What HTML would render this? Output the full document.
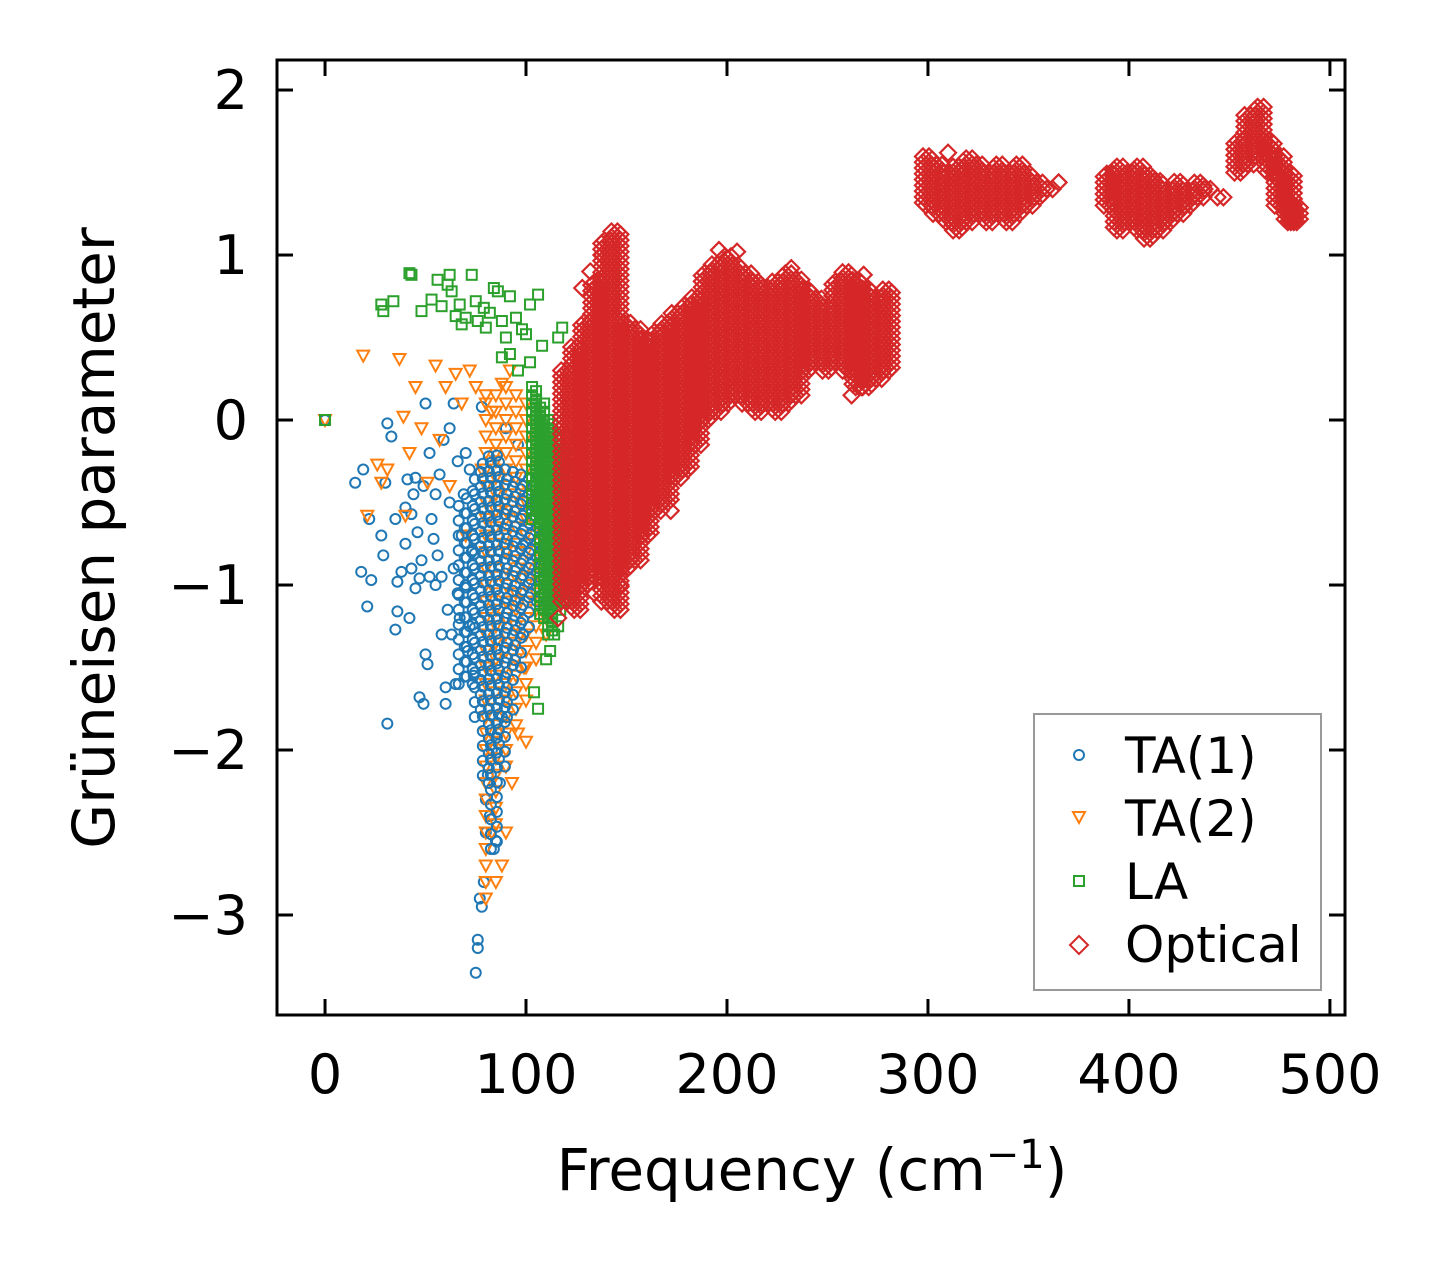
<!DOCTYPE html>
<html><head><meta charset="utf-8">
<style>
html,body{margin:0;padding:0;background:#fff;}
svg{display:block;font-family:"DejaVu Sans","Liberation Sans",sans-serif;}
</style></head>
<body>
<svg id="chart" width="1447" height="1264" viewBox="0 0 1447 1264">
<g id="marks"></g>
<g id="axes"></g>
<g id="legend">
  <rect x="1034" y="714" width="287" height="276" fill="#fff" stroke="#999" stroke-width="2"/>
  <g><circle cx="1079" cy="755" r="5" fill="none" stroke="#1f77b4" stroke-width="2"/><text x="1125" y="773" font-size="50">TA(1)</text></g>
  <g><path d="M1073,812 L1085,812 L1079,823 Z" fill="none" stroke="#ff7f0e" stroke-width="2"/><text x="1125" y="836" font-size="50">TA(2)</text></g>
  <g><rect x="1074" y="876" width="10" height="10" fill="none" stroke="#2ca02c" stroke-width="2"/><text x="1125" y="899" font-size="50">LA</text></g>
  <g><path d="M1079,936 L1088,945 L1079,954 L1070,945 Z" fill="none" stroke="#d62728" stroke-width="2"/><text x="1125" y="962" font-size="50">Optical</text></g>
</g>
</svg>
<script>
// ---- data ----
const xTicks=[0,100,200,300,400,500];
const yTicks=[-3,-2,-1,0,1,2];
const yTickLabels=["\u22123","\u22122","\u22121","0","1","2"];
const ta1=[[0,0],[15,-0.38],[19,-0.3],[18,-0.92],[21,-1.13],[23,-0.97],[22,-0.6],[28,-0.7],[29,-0.82],[30,-0.38],[31,-0.02],[33,-0.1],[35,-1.27],[36,-1.16],[36,-0.98],[38,-0.92],[40,-0.53],[41,-0.36],[42,-1.2],[43,-0.57],[44,-0.45],[45,-1.02],[46,-0.68],[47,-0.96],[48,-0.85],[49,-0.4],[50,0.1],[50,-1.42],[51,-1.48],[52,-0.2],[53,-0.6],[54,-0.72],[55,-1.0],[56,-0.82],[57,-0.33],[58,-0.95],[59,-0.12],[60,-1.62],[60,-1.72],[61,-1.15],[62,-0.5],[63,-1.3],[64,0.1],[64,-0.9],[65,-1.6],[66,-0.25],[67,-1.2],[68,-0.7],[69,-0.45],[70,-1.0],[71,-1.4],[72,-0.3],[73,-0.8],[74,-1.55],[75,-3.35],[76,-3.2],[76,-3.15],[77,-2.9],[78,-2.95],[79,-2.8],[80,-2.5],[80,-2.3],[81,-2.15],[82,-2.4],[83,-2.0],[84,-2.6],[85,-2.55],[86,-1.9],[87,-2.2],[88,-1.8],[31,-1.84],[47,-1.68],[49,-1.72],[55,-0.45],[62,-0.05],[70,-0.2],[78,0.08],[45,-0.35],[58,-1.3],[66,-1.05],[72,-1.25],[35,-0.6],[40,-0.75],[52,-0.95],[43,-0.9],[100,-0.75],[104,-0.6],[96,-0.15],[90,-0.05]];
const ta1CoreF=[68,72,76,80,84,88,92,96,100,104,108];
const ta1CoreLo=[-1.6,-1.6,-1.8,-2.2,-2.6,-2.1,-1.8,-1.5,-1.3,-1.1,-0.9];
const ta1CoreHi=[-0.5,-0.4,-0.3,-0.2,-0.2,-0.25,-0.3,-0.3,-0.35,-0.4,-0.5];
const ta2=[[0,0],[19,0.39],[21,-0.58],[26,-0.27],[28,-0.38],[31,-0.3],[37,0.37],[39,0.02],[40,-0.58],[42,-0.2],[45,0.2],[48,-0.05],[51,-0.38],[55,0.33],[57,-0.12],[60,0.2],[62,-0.4],[65,0.28],[68,0.1],[70,-0.7],[72,0.3],[75,0.2],[78,-0.3],[80,0.15],[83,0.05],[85,-0.2],[88,0.22],[90,-0.55],[92,0.3],[95,-1.1],[97,-1.3],[99,-1.5],[100,-1.95],[96,-1.9],[93,-2.2],[90,-2.5],[88,-2.7],[85,-2.8],[83,-2.5],[110,-0.9],[108,-0.3],[105,-0.1]];
const ta2CoreF=[80,85,90,95,100,105,110,115];
const ta2CoreLo=[-2.9,-2.5,-2.1,-1.9,-1.7,-1.5,-1.3,-1.1];
const ta2CoreHi=[0.1,0.15,0.2,0.15,0.1,0.0,-0.1,-0.3];
const la=[[0,0],[28,0.7],[29,0.66],[34,0.72],[42,0.89],[43,0.88],[48,0.66],[53,0.73],[56,0.85],[58,0.69],[61,0.82],[62,0.88],[63,0.78],[65,0.63],[67,0.7],[68,0.58],[70,0.62],[73,0.88],[75,0.72],[76,0.6],[79,0.68],[80,0.56],[82,0.65],[84,0.8],[86,0.78],[88,0.6],[90,0.5],[92,0.75],[95,0.62],[98,0.55],[100,0.52],[102,0.7],[106,0.76],[108,0.45],[88,0.38],[92,0.4],[96,0.3],[102,0.35],[110,-1.45],[112,-1.4],[106,-1.75],[104,-1.65],[114,-1.3],[116,-1.25],[118,-1.05],[116,0.5],[118,0.56],[120,-0.1]];
const laCoreF=[104,108,112,116,120];
const laCoreLo=[-0.6,-1.2,-1.3,-1.15,-1.1];
const laCoreHi=[0.2,0.1,0.0,-0.1,-0.2];
const opF=[120,125,130,135,140,145,150,155,160,165,170,175,180,185,190,195,200,205,210,215,220,225,230,235,240,245,250,255,260,265,270,275,280,300,305,310,315,320,325,330,335,340,345,350,355,360,390,395,400,405,410,415,420,425,430,435,440,445,455,460,465,470,475,480,483];
const opLo=[-1.1,-1.15,-1.0,-0.95,-1.1,-1.15,-0.9,-0.85,-0.7,-0.55,-0.5,-0.35,-0.3,-0.15,0,0.05,0.1,0.15,0.1,0.05,0.1,0.05,0.1,0.15,0.3,0.35,0.3,0.35,0.3,0.2,0.2,0.25,0.3,1.3,1.25,1.2,1.15,1.2,1.25,1.2,1.25,1.2,1.25,1.3,1.35,1.4,1.3,1.15,1.2,1.15,1.1,1.15,1.2,1.25,1.3,1.35,1.4,1.35,1.5,1.55,1.6,1.5,1.3,1.2,1.2];
const opHi=[0.3,0.45,0.6,0.85,1.1,1.15,0.6,0.55,0.5,0.55,0.6,0.65,0.7,0.75,0.9,0.95,1.0,0.95,0.9,0.85,0.8,0.85,0.9,0.85,0.8,0.75,0.7,0.85,0.9,0.85,0.8,0.75,0.8,1.6,1.55,1.5,1.55,1.6,1.55,1.5,1.55,1.5,1.55,1.5,1.45,1.4,1.5,1.55,1.5,1.55,1.5,1.45,1.4,1.45,1.4,1.45,1.4,1.35,1.7,1.85,1.9,1.7,1.6,1.5,1.3];
const opExtra=[[128,0.8],[132,0.9],[138,1.0],[143,-1.1],[147,-1.0],[134,-1.05],[196,1.03],[205,1.02],[232,0.92],[268,0.88],[365,1.44],[310,1.62],[262,0.15],[172,-0.55],[116,-1.2]];

// ---- scales ----
const X0=277,X1=1345,Y0=60,Y1=1015;
const xMin=-23.9,xMax=507.5,yMin=-3.606,yMax=2.182;
const px=f=>X0+(f-xMin)/(xMax-xMin)*(X1-X0);
const py=g=>Y1-(g-yMin)/(yMax-yMin)*(Y1-Y0);
const NS="http://www.w3.org/2000/svg";
const marks=document.getElementById('marks');
const axes=document.getElementById('axes');
function mk(tag,attrs,parent){const e=document.createElementNS(NS,tag);for(const k in attrs)e.setAttribute(k,attrs[k]);parent.appendChild(e);return e;}

function drawMarker(type,f,g,name,dx){
  const x=px(f)+(dx||0),y=py(g);let e;
  if(type==='c') e=mk('circle',{cx:x,cy:y,r:5,fill:'none',stroke:'#1f77b4','stroke-width':2},marks);
  else if(type==='t') e=mk('path',{d:`M${x-6},${y-5}L${x+6},${y-5}L${x},${y+6}Z`,fill:'none',stroke:'#ff7f0e','stroke-width':2},marks);
  else if(type==='s') e=mk('rect',{x:x-5,y:y-5,width:10,height:10,fill:'none',stroke:'#2ca02c','stroke-width':2},marks);
  else e=mk('path',{d:`M${x},${y-8}L${x+8},${y}L${x},${y+8}L${x-8},${y}Z`,fill:'none',stroke:'#d62728','stroke-width':2.2},marks);
  
  
}
function drawBand(type,F,Lo,Hi,step,name,offs){
  F.forEach((f,i)=>{(offs||[0]).forEach((dx,j)=>{const off=((i+j)%2)*step/2;for(let g=Lo[i]+off;g<=Hi[i]+1e-9;g+=step)drawMarker(type,f,g,name,dx);});});
}
ta1.forEach(p=>drawMarker('c',p[0],p[1],'ta1-point'));
ta2.forEach(p=>drawMarker('t',p[0],p[1],'ta2-point'));
drawBand('t',ta2CoreF,ta2CoreLo,ta2CoreHi,0.1,'ta2-point',[0]);
drawBand('c',ta1CoreF,ta1CoreLo,ta1CoreHi,0.09,'ta1-point',[-3,3]);
la.forEach(p=>drawMarker('s',p[0],p[1],'la-point'));
drawBand('s',laCoreF,laCoreLo,laCoreHi,0.05,'la-point',[-2,2]);
drawBand('d',opF,opLo,opHi,0.035,'optical-point',[-5,-2,1,4]);
opExtra.forEach(p=>drawMarker('d',p[0],p[1],'optical-point'));

// ---- axes ----
const frame=mk('rect',{x:X0,y:Y0,width:X1-X0,height:Y1-Y0,fill:'none',stroke:'#000','stroke-width':3},axes);


xTicks.forEach(v=>{
  const x=px(v);
  mk('line',{x1:x,x2:x,y1:Y1,y2:Y1-16,stroke:'#000','stroke-width':3},axes);
  mk('line',{x1:x,x2:x,y1:Y0,y2:Y0+16,stroke:'#000','stroke-width':3},axes);
  const t=mk('text',{x:x,y:1093,'font-size':54,'text-anchor':'middle'},axes);
  t.textContent=v;
  
  
});
yTicks.forEach((v,i)=>{
  const y=py(v);
  mk('line',{x1:X0,x2:X0+16,y1:y,y2:y,stroke:'#000','stroke-width':3},axes);
  mk('line',{x1:X1,x2:X1-16,y1:y,y2:y,stroke:'#000','stroke-width':3},axes);
  const t=mk('text',{x:248,y:y+19,'font-size':54,'text-anchor':'end'},axes);
  t.textContent=yTickLabels[i];
  
  
});
const xl=mk('text',{x:812,y:1190,'font-size':58,'text-anchor':'middle'},axes);
xl.innerHTML='Frequency (cm<tspan dy="-22" font-size="40">\u22121</tspan><tspan dy="22">)</tspan>';


const yl=mk('text',{x:0,y:0,'font-size':58,'text-anchor':'middle',transform:'translate(114,538) rotate(-90)'},axes);
yl.textContent='Grüneisen parameter';


</script>
</body></html>
